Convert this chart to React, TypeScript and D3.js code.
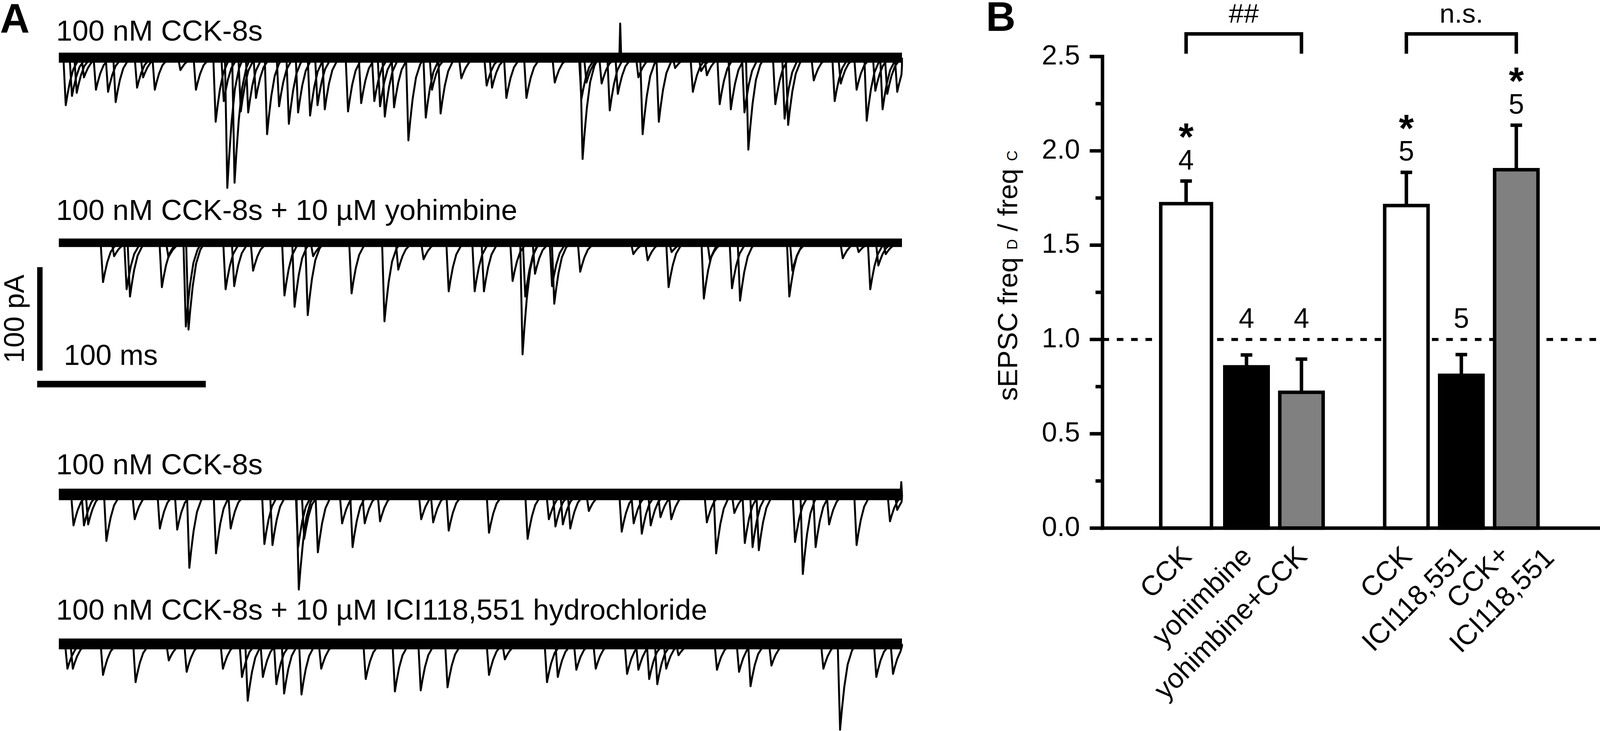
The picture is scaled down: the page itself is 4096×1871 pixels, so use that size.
import React from 'react';
import * as d3 from 'd3';

const W = 4096;
const H = 1871;
const K = 0.991;
const FONT = '"Liberation Sans", Arial, Helvetica, sans-serif';

// ---------------- Panel A data ----------------
const traceTitles = [
  '100 nM CCK-8s',
  '100 nM CCK-8s + 10 µM yohimbine',
  '100 nM CCK-8s',
  '100 nM CCK-8s + 10 µM ICI118,551 hydrochloride',
];
const sweepMs = [0, 500];
const scaleBarMs = 100;
const scaleBarPA = 100;

// sEPSC events: [time (ms), amplitude (pA)]
const eventsCck1: [number, number][] = [
  [4.1, -46], [7.8, -37], [10.6, -34], [14.9, -19], [22.0, -31], [29.2, -33], [33.7, -43],
  [46.4, -29], [50.0, -19], [56.9, -31], [72.1, -12], [81.3, -31], [93.0, -62], [97.8, -42],
  [99.9, -126], [104.2, -121], [107.9, -52], [112.3, -53], [116.9, -39], [123.5, -74],
  [130.6, -47], [136.4, -64], [141.9, -53], [149.0, -56], [153.4, -46], [157.7, -50],
  [171.5, -52], [179.3, -44], [187.1, -42], [190.5, -47], [193.3, -57], [198.8, -48],
  [207.3, -80], [217.6, -58], [221.3, -31], [226.4, -54], [238.7, -20], [253.7, -27],
  [256.9, -29], [265.4, -39], [277.3, -39], [294.1, -24], [309.9, -40], [310.6, -98],
  [312.9, -24], [321.9, -25], [326.7, -51], [331.5, -35], [332.9, 33], [343.7, -19],
  [346.2, -74], [355.8, -62], [365.5, -10], [376.0, -33], [380.9, -13], [384.3, -17],
  [391.9, -45], [398.5, -50], [406.6, -53], [408.9, -89], [424.9, -45], [430.4, -59],
  [432.5, -65], [447.7, -22], [460.1, -42], [463.7, -25], [473.1, -31], [479.1, -61],
  [484.2, -32], [488.5, -50], [491.3, -35], [497.2, -33],
];
const eventsYohimbine: [number, number][] = [
  [26.2, -38], [32.8, -13], [40.2, -45], [42.2, -52], [61.1, -43], [65.0, -14], [75.3, -81],
  [76.9, -84], [98.9, -45], [104.0, -42], [115.2, -27], [133.8, -51], [139.8, -62],
  [147.6, -70], [150.8, -13], [173.6, -49], [193.1, -76], [201.3, -26], [216.3, -16],
  [231.2, -47], [246.6, -47], [252.1, -47], [269.1, -37], [275.0, -108], [276.6, -52],
  [282.4, -30], [292.5, -42], [293.8, -59], [309.2, -28], [340.7, -11], [349.2, -17],
  [361.6, -43], [363.4, -9], [382.5, -54], [386.1, -17], [399.2, -44], [404.0, -56],
  [433.2, -52], [435.0, -27], [464.9, -15], [474.3, -9], [481.2, -45], [486.0, -22],
  [490.4, -11],
];
const eventsCck2: [number, number][] = [
  [8.7, -30], [14.9, -30], [17.4, -29], [28.2, -45], [45.0, -24], [59.9, -33], [70.2, -34],
  [77.4, -71], [93.2, -57], [101.9, -33], [121.9, -48], [126.7, -49], [141.9, -51],
  [142.3, -92], [145.5, -43], [153.6, -56], [168.0, -28], [174.2, -51], [181.4, -28],
  [190.5, -26], [214.9, -24], [222.0, -27], [231.2, -35], [255.1, -37], [278.0, -43],
  [290.6, -24], [294.5, -31], [298.9, -29], [303.3, -33], [314.3, -16], [333.8, -36],
  [340.9, -28], [345.7, -38], [351.0, -30], [356.8, -22], [363.2, -24], [384.3, -27],
  [389.8, -57], [400.6, -18], [406.8, -47], [411.4, -51], [415.1, -54], [436.6, -46],
  [441.2, -77], [448.8, -51], [456.8, -29], [473.1, -49], [492.9, -26], [497.2, -15],
  [499.6, 12],
];
const eventsIci: [number, number][] = [
  [5.1, -24], [8.3, -24], [26.2, -30], [45.5, -37], [65.2, -16], [75.8, -27], [97.3, -24],
  [108.6, -32], [112.0, -55], [121.0, -32], [129.0, -39], [133.6, -48], [143.9, -49],
  [155.6, -24], [182.0, -34], [199.3, -46], [214.6, -45], [230.5, -42], [255.1, -30],
  [264.5, -15], [289.5, -37], [295.9, -32], [306.9, -25], [318.4, -24], [337.0, -29],
  [343.7, -25], [350.1, -34], [354.9, -39], [360.2, -24], [367.5, -11], [390.3, -25],
  [403.4, -27], [410.2, -41], [422.6, -21], [453.4, -24], [463.3, -83], [484.8, -32],
  [494.7, -29],
];
const traceEvents = [eventsCck1, eventsYohimbine, eventsCck2, eventsIci];

// ---------------- Panel B data ----------------
const conditions = ['CCK', 'yohimbine', 'yohimbine+CCK', 'CCK', 'ICI118,551', 'CCK+\nICI118,551'];
const conditionGroup = ['alpha2', 'alpha2', 'alpha2', 'beta2', 'beta2', 'beta2'];
const slotInGroup = [0, 1, 2, 0, 1, 2];
const ratioMean = [1.72, 0.855, 0.72, 1.71, 0.81, 1.9];
const ratioSem = [0.12, 0.063, 0.176, 0.176, 0.11, 0.236];
const cellCounts = [4, 4, 4, 5, 5, 5];
const significant = [true, false, false, true, false, true];
const yTicks = [0, 0.5, 1, 1.5, 2, 2.5];
const yMinorTicks = [0.25, 0.75, 1.25, 1.75, 2.25];
const referenceRatio = 1.0;
const comparisons = [
  { label: '##', from: 0, to: 2 },
  { label: 'n.s.', from: 3, to: 5 },
];

// ---------------- styles ----------------
const barFill = ['#ffffff', '#000000', '#808080', '#ffffff', '#000000', '#808080'];
const barExtraWidth = [19, 0, 0, 0, 0, 0];
const barShift = [-14, 0, 0, 0, 0, 0];
const traceLayout = [
  { base: 149, band: 26, labelY: 105 },
  { base: 627, band: 22, labelY: 568 },
  { base: 1277, band: 30, labelY: 1225 },
  { base: 1663, band: 28, labelY: 1600 },
];
const PX_PER_PA = 2.67;
// event glyph: [ms offset from peak, fraction of amplitude]
const eventGlyph: [number, number][] = [
  [-1.4, 0], [0, 1], [1, 0.78], [2.5, 0.5], [4.5, 0.24], [7, 0.08], [9.5, 0],
];
const spikeGlyph: [number, number][] = [[-0.5, 0], [0, 1], [0.6, 0]];

const xTime = d3.scaleLinear().domain(sweepMs).range([152, 2330]);

function Trace({ idx }: { idx: number }) {
  const lay = traceLayout[idx];
  const yAmp = d3.scaleLinear().domain([0, -100]).range([lay.base, lay.base + 100 * PX_PER_PA]);
  const line = d3.line<[number, number]>().x((d) => d[0]).y((d) => d[1]);
  const paths = traceEvents[idx].map(([t, a], i) => {
    const glyph = a > 0 ? spikeGlyph : eventGlyph;
    const pts = glyph.map(
      ([dt, f]) => [xTime(Math.min(Math.max(t + dt, sweepMs[0]), sweepMs[1])), yAmp(a * f)] as [number, number]
    );
    return <path key={i} d={line(pts) || ''} fill="none" stroke="#000" strokeWidth={5} strokeLinejoin="round" />;
  });
  return (
    <g>
      <text x={145} y={lay.labelY} fontSize={75} fontFamily={FONT}>{traceTitles[idx]}</text>
      <line x1={xTime(sweepMs[0])} x2={xTime(sweepMs[1])} y1={lay.base} y2={lay.base} stroke="#000" strokeWidth={lay.band} />
      {paths}
    </g>
  );
}

function PanelA() {
  const yAmp = d3.scaleLinear().domain([0, -100]).range([0, 100 * PX_PER_PA]);
  const vLen = yAmp(-scaleBarPA);
  const hLen = xTime(scaleBarMs) - xTime(0);
  return (
    <g>
      <text x={0} y={85} fontSize={106} fontWeight="bold" fontFamily={FONT}>A</text>
      {traceTitles.map((_, i) => <Trace key={i} idx={i} />)}
      <line x1={103} x2={103} y1={690} y2={690 + vLen} stroke="#000" strokeWidth={14} />
      <line x1={96} x2={96 + hLen} y1={992} y2={992} stroke="#000" strokeWidth={17} />
      <text x={165} y={942} fontSize={74} fontFamily={FONT}>{`${scaleBarMs} ms`}</text>
      <text transform={`translate(62, ${690 + vLen / 2}) rotate(-90)`} textAnchor="middle" fontSize={72} fontFamily={FONT}>{`${scaleBarPA} pA`}</text>
    </g>
  );
}

function PanelB() {
  const y = d3.scaleLinear().domain([0, 2.5]).range([1364, 146]);
  const groupX = d3.scalePoint<string>().domain(['alpha2', 'beta2']).range([3220, 3775]);
  const inner = d3.scaleBand<number>().domain([0, 1, 2]).range([-213, 213]).paddingInner(0.211).paddingOuter(0.1055);
  const axisX = 2848;
  const right = 4150;
  const sw = 9;
  const cx = conditions.map(
    (_, i) => (groupX(conditionGroup[i]) as number) + (inner(slotInGroup[i]) as number) + inner.bandwidth() / 2 + barShift[i]
  );
  const bw = conditions.map((_, i) => inner.bandwidth() + barExtraWidth[i]);

  return (
    <g fontFamily={FONT}>
      <text x={2547} y={80} fontSize={106} fontWeight="bold">B</text>
      <line x1={axisX} x2={right} y1={y(referenceRatio)} y2={y(referenceRatio)} stroke="#000" strokeWidth={8} strokeDasharray="17 20" />
      {conditions.map((_, i) => (
        <rect key={`b${i}`} x={cx[i] - bw[i] / 2} y={y(ratioMean[i])} width={bw[i]} height={y(0) - y(ratioMean[i])}
          fill={barFill[i]} stroke="#000" strokeWidth={sw} />
      ))}
      {conditions.map((_, i) => {
        const top = y(ratioMean[i] + ratioSem[i]);
        return (
          <g key={`e${i}`} stroke="#000" strokeWidth={sw}>
            <line x1={cx[i]} x2={cx[i]} y1={y(ratioMean[i])} y2={top} />
            <line x1={cx[i] - 15} x2={cx[i] + 15} y1={top} y2={top} />
          </g>
        );
      })}
      {conditions.map((_, i) => {
        const base = y(Math.max(ratioMean[i] + ratioSem[i], referenceRatio)) - 30;
        return (
          <g key={`n${i}`}>
            <text x={cx[i]} y={base} textAnchor="middle" fontSize={72}>{cellCounts[i]}</text>
            {significant[i] && (
              <text x={cx[i]} y={base - 50} textAnchor="middle" fontSize={100} fontWeight="bold">*</text>
            )}
          </g>
        );
      })}
      {comparisons.map((c, k) => {
        const x1 = cx[c.from];
        const x2 = cx[c.to];
        const yt = y(2.62);
        const yb = y(2.515);
        return (
          <g key={`c${k}`}>
            <path d={`M${x1},${yb} L${x1},${yt} L${x2},${yt} L${x2},${yb}`} fill="none" stroke="#000" strokeWidth={sw} />
            <text x={(x1 + x2) / 2} y={y(2.68)} textAnchor="middle" fontSize={70}>{c.label}</text>
          </g>
        );
      })}
      <line x1={axisX} x2={axisX} y1={y(2.5) - sw / 2} y2={y(0) + sw / 2} stroke="#000" strokeWidth={sw} />
      <line x1={axisX - sw / 2} x2={right} y1={y(0)} y2={y(0)} stroke="#000" strokeWidth={sw} />
      {yTicks.map((t) => (
        <g key={`t${t}`}>
          <line x1={axisX - 33} x2={axisX} y1={y(t)} y2={y(t)} stroke="#000" strokeWidth={sw} />
          <text x={2790} y={y(t) + 20} textAnchor="end" fontSize={71}>{d3.format('.1f')(t)}</text>
        </g>
      ))}
      {yMinorTicks.map((t) => (
        <line key={`m${t}`} x1={axisX - 18} x2={axisX} y1={y(t)} y2={y(t)} stroke="#000" strokeWidth={sw} />
      ))}
      <text transform={`translate(2628, 712) rotate(-90)`} textAnchor="middle" fontSize={71}>
        <tspan>{'sEPSC freq '}</tspan>
        <tspan fontSize={38}>D</tspan>
        <tspan>{' / freq '}</tspan>
        <tspan fontSize={38}>C</tspan>
      </text>
      {conditions.map((c, i) => {
        const lines = c.split('\n');
        if (lines.length === 1) {
          return (
            <text key={`x${i}`} transform={`translate(${cx[i] + 18}, 1441) rotate(-45)`} textAnchor="end" fontSize={72}>{c}</text>
          );
        }
        return (
          <text key={`x${i}`} transform={`translate(${cx[i] - 82}, 1506) rotate(-45)`} textAnchor="middle" fontSize={72}>
            {lines.map((l, j) => (
              <tspan key={j} x={0} dy={j === 0 ? 0 : '1.2em'}>{l}</tspan>
            ))}
          </text>
        );
      })}
    </g>
  );
}

export default function App() {
  return (
    <svg width={W} height={H} viewBox={`0 0 ${W} ${H}`} style={{ position: 'absolute', left: 0, top: 0, display: 'block' }}>
      <rect x={0} y={0} width={W} height={H} fill="#fff" />
      <g transform={`scale(${K})`}>
        <PanelA />
        <PanelB />
      </g>
    </svg>
  );
}
